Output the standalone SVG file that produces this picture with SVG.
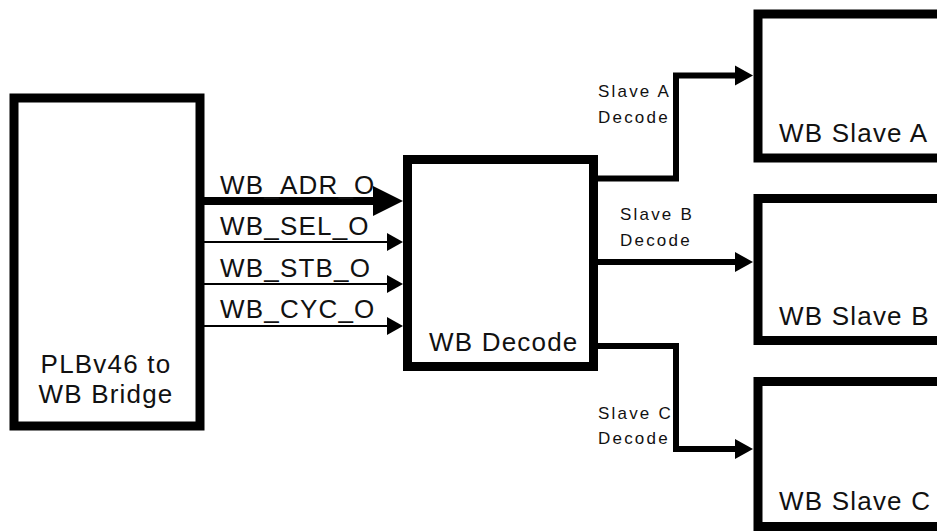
<svg xmlns="http://www.w3.org/2000/svg" width="937" height="531" viewBox="0 0 937 531">
<style>
.box{fill:#fff;stroke:#000;stroke-width:9;stroke-linejoin:miter}
.big{font-family:"Liberation Sans",Arial,sans-serif;font-size:26px;letter-spacing:1.2px;fill:#111}
.sm{font-family:"Liberation Sans",Arial,sans-serif;font-size:17px;letter-spacing:2.2px;fill:#111}
.con{fill:none;stroke:#000;stroke-width:6;stroke-linejoin:miter}
.thin{fill:none;stroke:#000;stroke-width:2}
.thick{fill:none;stroke:#000;stroke-width:8}
</style>
<defs>
<marker id="ah" markerUnits="userSpaceOnUse" markerWidth="18" markerHeight="20" refX="2" refY="10" orient="auto" overflow="visible"><path d="M0,0 L18,10 L0,20 z" fill="#000"/></marker>
<marker id="ahThin" markerUnits="userSpaceOnUse" markerWidth="16" markerHeight="18" refX="2" refY="9" orient="auto" overflow="visible"><path d="M0,0 L16,9 L0,18 z" fill="#000"/></marker>
<marker id="ahThick" markerUnits="userSpaceOnUse" markerWidth="30" markerHeight="30" refX="2" refY="15" orient="auto" overflow="visible"><path d="M0,0 L30,15 L0,30 z" fill="#000"/></marker>
</defs>
<rect width="937" height="531" fill="#fff"/>
<g id="bridge">
<rect class="box" x="14" y="98" width="186" height="328"/>
<text class="big" x="106" y="373" text-anchor="middle">PLBv46 to</text>
<text class="big" x="106" y="403" text-anchor="middle">WB Bridge</text>
</g>
<g id="decode">
<rect class="box" x="407.5" y="159.5" width="186" height="207"/>
<text class="big" x="429" y="351">WB Decode</text>
</g>
<g id="slaveA">
<rect class="box" x="758" y="14" width="200" height="144"/>
<text class="big" x="779" y="142">WB Slave A</text>
</g>
<g id="slaveB">
<rect class="box" x="758" y="198.5" width="200" height="142"/>
<text class="big" x="779" y="325">WB Slave B</text>
</g>
<g id="slaveC">
<rect class="box" x="758" y="381.5" width="200" height="145"/>
<text class="big" x="779" y="510">WB Slave C</text>
</g>
<g id="connectors">
<path class="thick" d="M204,201 H375" marker-end="url(#ahThick)"/>
<path class="thin" d="M204,242 H389" marker-end="url(#ahThin)"/>
<path class="thin" d="M204,284 H389" marker-end="url(#ahThin)"/>
<path class="thin" d="M204,326 H389" marker-end="url(#ahThin)"/>
<path class="con" d="M594,178.5 H676 V75.5 H737" marker-end="url(#ah)"/>
<path class="con" d="M594,262 H737" marker-end="url(#ah)"/>
<path class="con" d="M594,346 H676 V449 H737" marker-end="url(#ah)"/>
<text class="big" x="220" y="194">WB_ADR_O</text>
<text class="big" x="220" y="235">WB_SEL_O</text>
<text class="big" x="220" y="277">WB_STB_O</text>
<text class="big" x="220" y="318">WB_CYC_O</text>
<text class="sm" x="598" y="97">Slave A</text>
<text class="sm" x="598" y="123">Decode</text>
<text class="sm" x="620" y="220">Slave B</text>
<text class="sm" x="620" y="246">Decode</text>
<text class="sm" x="598" y="419">Slave C</text>
<text class="sm" x="598" y="444">Decode</text>
</g>
</svg>
